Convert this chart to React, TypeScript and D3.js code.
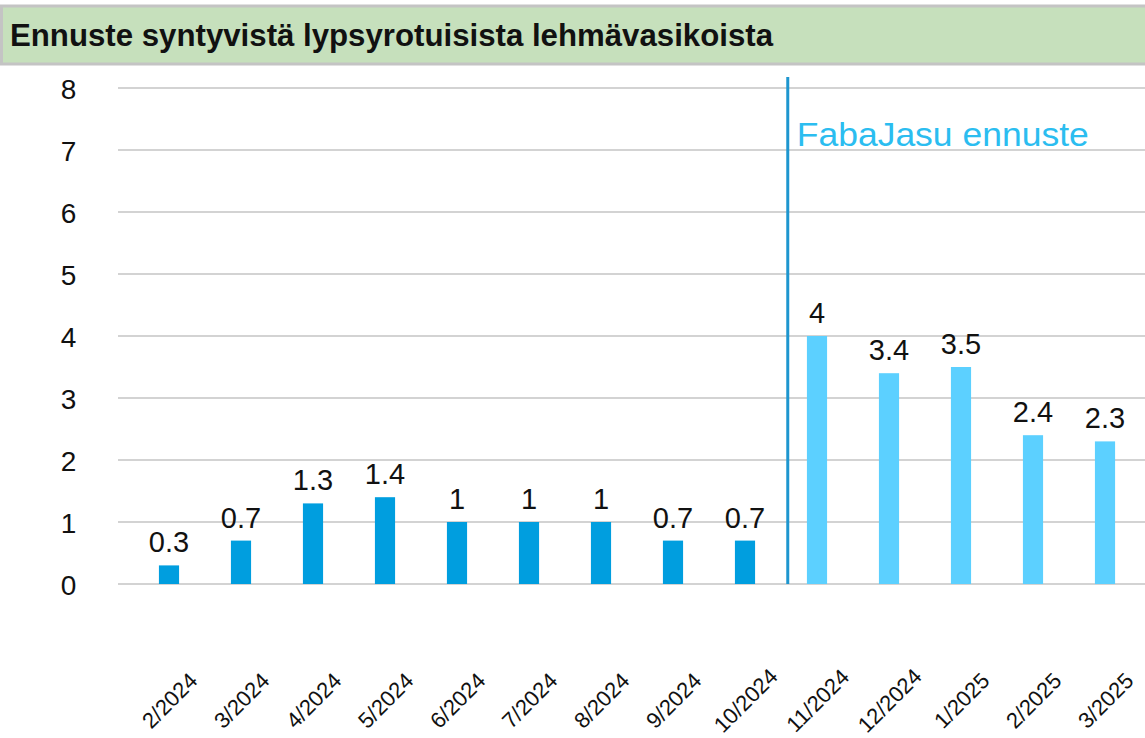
import React from "react";
import * as d3 from "d3";

const categories = [
  "2/2024", "3/2024", "4/2024", "5/2024", "6/2024", "7/2024", "8/2024",
  "9/2024", "10/2024", "11/2024", "12/2024", "1/2025", "2/2025", "3/2025",
];
const values = [0.3, 0.7, 1.3, 1.4, 1, 1, 1, 0.7, 0.7, 4, 3.4, 3.5, 2.4, 2.3];
const forecast = [false, false, false, false, false, false, false, false, false, true, true, true, true, true];
const yTicks = [0, 1, 2, 3, 4, 5, 6, 7, 8];
const title = "Ennuste syntyvistä lypsyrotuisista lehmävasikoista";
const forecastLabel = "FabaJasu ennuste";

const W = 1145;
const H = 738;
const FONT = "'Liberation Sans', Arial, sans-serif";

export default function App() {
  const x = d3
    .scaleBand<string>()
    .domain(categories)
    .range([133, 1141])
    .paddingInner(0.72)
    .paddingOuter(0.36);
  const y = d3.scaleLinear().domain([0, 8]).range([584, 88]);
  const bw = x.bandwidth();
  const firstForecast = categories[forecast.indexOf(true)];
  const splitX = (x(firstForecast) ?? 0) - bw + 1;
  const fmt = d3.format("~g");

  return (
    <svg
      width={W}
      height={H}
      style={{ position: "absolute", left: 0, top: 0, background: "#fff" }}
      fontFamily={FONT}
    >
      <rect x={1.5} y={6} width={W + 2} height={58} fill="#c6e0bc" stroke="#c4c4c4" strokeWidth={3} />
      <text x={10} y={46} fontSize={31} fontWeight="bold" fill="#111" textLength={763} lengthAdjust="spacingAndGlyphs">
        {title}
      </text>

      {yTicks.map((t) => (
        <g key={t}>
          <line x1={118} x2={W} y1={y(t)} y2={y(t)} stroke="#d3d3d3" strokeWidth={2} />
          <text x={68.5} y={y(t) + 11} fontSize={28} textAnchor="middle" fill="#111">
            {t}
          </text>
        </g>
      ))}

      {categories.map((c, i) => {
        const cx = (x(c) ?? 0) + bw / 2;
        return (
          <g key={c}>
            <rect
              x={x(c)}
              y={y(values[i])}
              width={bw}
              height={y(0) - y(values[i])}
              fill={forecast[i] ? "#5cd0ff" : "#009edf"}
            />
            <text x={cx} y={y(values[i]) - 13} fontSize={29} textAnchor="middle" fill="#111">
              {fmt(values[i])}
            </text>
            <text
              transform={`translate(${cx + 6},${706}) rotate(-45)`}
              fontSize={22}
              textAnchor="middle"
              fill="#111"
            >
              {c}
            </text>
          </g>
        );
      })}

      <line x1={splitX} x2={splitX} y1={77} y2={584} stroke="#1e96cf" strokeWidth={3} />
      <text x={splitX + 9} y={146} fontSize={33} fill="#2bbdf0" textLength={292} lengthAdjust="spacingAndGlyphs">
        {forecastLabel}
      </text>
    </svg>
  );
}
